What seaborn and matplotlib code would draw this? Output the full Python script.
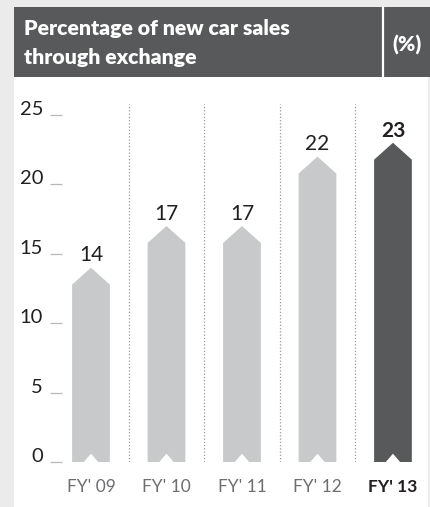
import matplotlib
matplotlib.use("Agg")
import matplotlib.pyplot as plt
from matplotlib.patches import Rectangle, Polygon
from matplotlib.lines import Line2D
import seaborn as sns
import pandas as pd

# ---- data ----
categories = ["FY' 09", "FY' 10", "FY' 11", "FY' 12", "FY' 13"]
values = [14, 17, 17, 22, 23]
value_labels = ["14", "17", "17", "22", "23"]
y_ticks = [0, 5, 10, 15, 20, 25]
y_tick_labels = ["0", "5", "10", "15", "20", "25"]
title_line1 = "Percentage of new car sales"
title_line2 = "through exchange"
unit_label = "(%)"
highlight = "FY' 13"

LIGHT = "#c8c9cb"
DARK = "#58595b"
TEXT = "#231f20"
GREY_TEXT = "#6d6e71"
BG = "#ebebeb"

sns.set_theme(style="white")
plt.rcParams["font.family"] = ["Lato", "DejaVu Sans"]

W, H = 430, 507
fig = plt.figure(figsize=(W / 100, H / 100), dpi=100, facecolor=BG)

def fx(px):
    return px / W

def fy(py):
    return 1 - py / H

# white panel
fig.add_artist(Rectangle((fx(14), 0), fx(428) - fx(14), fy(77), transform=fig.transFigure,
                         facecolor="white", edgecolor="none", zorder=0))
# header band
fig.add_artist(Rectangle((fx(14), fy(77)), fx(430) - fx(14), fy(7) - fy(77), transform=fig.transFigure,
                         facecolor=DARK, edgecolor="none", zorder=1))
fig.add_artist(Line2D([fx(383), fx(383)], [fy(77), fy(7)], transform=fig.transFigure,
                      color="white", lw=1.6, zorder=2))
fig.text(fx(24), fy(35), title_line1, color="white", fontsize=15.3, fontweight="heavy",
         va="baseline", ha="left", zorder=3)
fig.text(fx(24), fy(64), title_line2, color="white", fontsize=15.3, fontweight="heavy",
         va="baseline", ha="left", zorder=3)
fig.text(fx(407), fy(45), unit_label, color="white", fontsize=15, fontweight="heavy",
         va="center", ha="center", zorder=3)

# ---- axes ----
ax = fig.add_axes([fx(62), 1 - 462 / H, fx(428) - fx(62), (462 - 100) / H])
ax.set_facecolor("none")
ax.patch.set_alpha(0)

df = pd.DataFrame({"cat": categories, "val": values})
palette = {c: (DARK if c == highlight else LIGHT) for c in categories}
sns.barplot(data=df, x="cat", y="val", hue="cat", palette=palette, width=0.5,
            saturation=1, legend=False, ax=ax, dodge=False)

ylim_top = (462 - 100) / ((462 - 115) / 25)
ax.set_ylim(0, ylim_top)
ax.set_xlim(-0.384, 4.464)

tip = 1.22      # arrow head height (data units)
notch_h = 0.6
notch_w_frac = 0.38

for p in list(ax.patches):
    x0 = p.get_x()
    w = p.get_width()
    h = p.get_height()
    if w <= 0 or h <= 0:
        continue
    x1 = x0 + w
    xc = x0 + w / 2
    nw = w * notch_w_frac / 2
    col = p.get_facecolor()
    poly = Polygon([(x0, 0), (x0, h - tip), (xc, h), (x1, h - tip), (x1, 0),
                    (xc + nw, 0), (xc, notch_h), (xc - nw, 0)],
                   closed=True, facecolor=col, edgecolor="none", zorder=3)
    ax.add_patch(poly)
    p.set_visible(False)

# value labels
for i, (v, lab) in enumerate(zip(values, value_labels)):
    bold = categories[i] == highlight
    ax.annotate(lab, xy=(i, v), xytext=(0, 4.5), textcoords="offset points",
                ha="center", va="baseline", fontsize=15, color=TEXT,
                fontweight="bold" if bold else "normal")

# dotted separators
for i in range(len(categories) - 1):
    ax.axvline(i + 0.5, ymin=0, ymax=(462 - 104) / (462 - 100), color="#9a9a9a",
               lw=0.9, linestyle=(0, (1, 1.6)), zorder=1)

for s in ax.spines.values():
    s.set_visible(False)

ax.set_xlabel("")
ax.set_ylabel("")
ax.set_yticks(y_ticks)
ax.set_yticklabels(y_tick_labels)
ax.tick_params(axis="y", left=True, length=8.6, width=0.9, color="#b8b8b8", pad=5,
               labelsize=14.5, labelcolor=TEXT, direction="out")
for lbl in ax.get_yticklabels():
    lbl.set_va("baseline")
ax.tick_params(axis="x", bottom=False, length=0, pad=12, labelsize=12.5, labelcolor=GREY_TEXT)
for lbl in ax.get_xticklabels():
    if lbl.get_text() == highlight:
        lbl.set_fontweight("bold")
        lbl.set_color(TEXT)

fig.savefig("out.png", dpi=100, facecolor=BG)
